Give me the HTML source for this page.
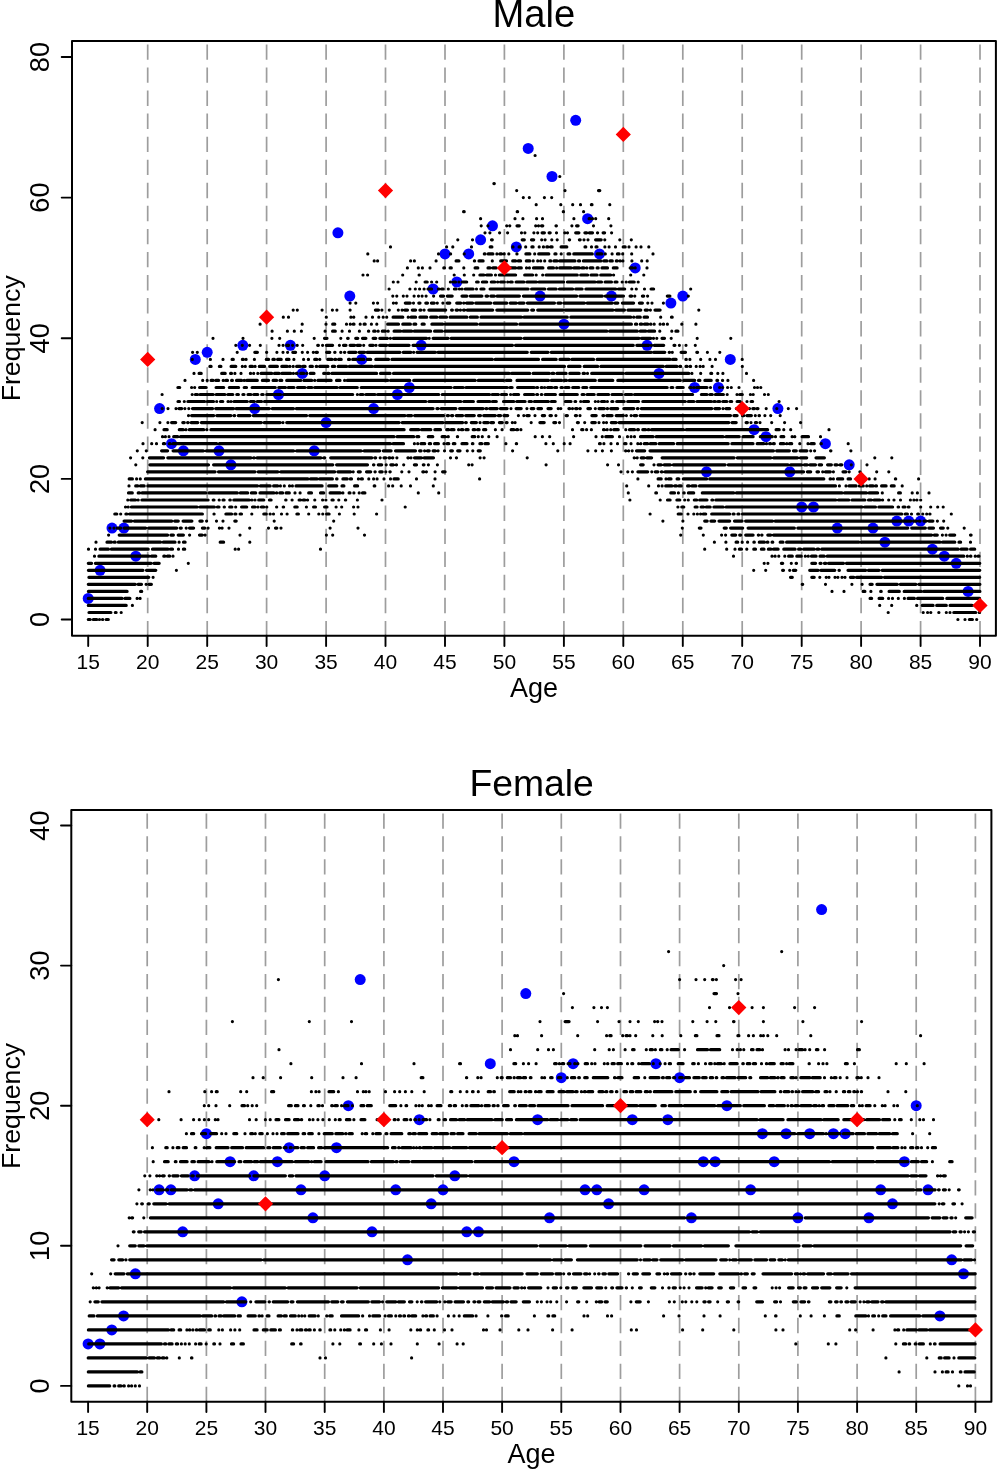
<!DOCTYPE html>
<html><head><meta charset="utf-8"><style>html,body{margin:0;padding:0;background:#fff;width:997px;height:1469px;overflow:hidden}svg{display:block;will-change:transform}</style></head><body>
<svg width="997" height="1469" viewBox="0 0 997 1469">
<path d="M147.7 44.4V635.8M207.2 44.4V635.8M266.6 44.4V635.8M326.1 44.4V635.8M385.5 44.4V635.8M445 44.4V635.8M504.4 44.4V635.8M563.9 44.4V635.8M623.3 44.4V635.8M682.8 44.4V635.8M742.2 44.4V635.8M801.7 44.4V635.8M861.1 44.4V635.8M920.6 44.4V635.8M980 44.4V635.8" stroke="#9d9d9d" stroke-width="1.7" stroke-dasharray="15.4 7.66" fill="none"/>
<g fill="#0000ff"><circle cx="88.2" cy="598.4" r="5.5"/><circle cx="100.1" cy="570.3" r="5.5"/><circle cx="112" cy="528.1" r="5.5"/><circle cx="123.9" cy="528.1" r="5.5"/><circle cx="135.8" cy="556.2" r="5.5"/><circle cx="159.6" cy="408.6" r="5.5"/><circle cx="171.5" cy="443.7" r="5.5"/><circle cx="183.4" cy="450.8" r="5.5"/><circle cx="195.3" cy="359.4" r="5.5"/><circle cx="207.2" cy="352.3" r="5.5"/><circle cx="219" cy="450.8" r="5.5"/><circle cx="230.9" cy="464.8" r="5.5"/><circle cx="242.8" cy="345.3" r="5.5"/><circle cx="254.7" cy="408.6" r="5.5"/><circle cx="278.5" cy="394.5" r="5.5"/><circle cx="290.4" cy="345.3" r="5.5"/><circle cx="302.3" cy="373.4" r="5.5"/><circle cx="314.2" cy="450.8" r="5.5"/><circle cx="326.1" cy="422.6" r="5.5"/><circle cx="337.9" cy="232.8" r="5.5"/><circle cx="349.8" cy="296.1" r="5.5"/><circle cx="361.7" cy="359.4" r="5.5"/><circle cx="373.6" cy="408.6" r="5.5"/><circle cx="397.4" cy="394.5" r="5.5"/><circle cx="409.3" cy="387.5" r="5.5"/><circle cx="421.2" cy="345.3" r="5.5"/><circle cx="433.1" cy="289" r="5.5"/><circle cx="445" cy="253.9" r="5.5"/><circle cx="456.8" cy="282" r="5.5"/><circle cx="468.7" cy="253.9" r="5.5"/><circle cx="480.6" cy="239.8" r="5.5"/><circle cx="492.5" cy="225.8" r="5.5"/><circle cx="516.3" cy="246.9" r="5.5"/><circle cx="528.2" cy="148.4" r="5.5"/><circle cx="540.1" cy="296.1" r="5.5"/><circle cx="552" cy="176.5" r="5.5"/><circle cx="563.9" cy="324.2" r="5.5"/><circle cx="575.7" cy="120.3" r="5.5"/><circle cx="587.6" cy="218.7" r="5.5"/><circle cx="599.5" cy="253.9" r="5.5"/><circle cx="611.4" cy="296.1" r="5.5"/><circle cx="635.2" cy="267.9" r="5.5"/><circle cx="647.1" cy="345.3" r="5.5"/><circle cx="659" cy="373.4" r="5.5"/><circle cx="670.9" cy="303.1" r="5.5"/><circle cx="682.8" cy="296.1" r="5.5"/><circle cx="694.6" cy="387.5" r="5.5"/><circle cx="706.5" cy="471.8" r="5.5"/><circle cx="718.4" cy="387.5" r="5.5"/><circle cx="730.3" cy="359.4" r="5.5"/><circle cx="754.1" cy="429.7" r="5.5"/><circle cx="766" cy="436.7" r="5.5"/><circle cx="777.9" cy="408.6" r="5.5"/><circle cx="789.8" cy="471.8" r="5.5"/><circle cx="801.7" cy="507" r="5.5"/><circle cx="813.5" cy="507" r="5.5"/><circle cx="825.4" cy="443.7" r="5.5"/><circle cx="837.3" cy="528.1" r="5.5"/><circle cx="849.2" cy="464.8" r="5.5"/><circle cx="873" cy="528.1" r="5.5"/><circle cx="884.9" cy="542.2" r="5.5"/><circle cx="896.8" cy="521.1" r="5.5"/><circle cx="908.7" cy="521.1" r="5.5"/><circle cx="920.6" cy="521.1" r="5.5"/><circle cx="932.4" cy="549.2" r="5.5"/><circle cx="944.3" cy="556.2" r="5.5"/><circle cx="956.2" cy="563.3" r="5.5"/><circle cx="968.1" cy="591.4" r="5.5"/></g>
<path d="M88.3 619.5h1.9M93.3 619.5h3.5M99.5 619.5h0M102.5 619.5h0.3M106.2 619.5h2.1M957.9 619.5h0M965 619.5h0M969.4 619.5h3M976.7 619.5h0M89 612.5h21.9M115.3 612.5h0.8M121.2 612.5h0M888.2 612.5h0M923.2 612.5h0M927.6 612.5h0M930.8 612.5h0M938.8 612.5h0.1M946.3 612.5h0M950 612.5h0M953.8 612.5h21.9M979.2 612.5h0.4M88.3 605.4h37.9M132.4 605.4h0M879.7 605.4h0M891.7 605.4h0M916.7 605.4h0.1M922.3 605.4h10.8M936.7 605.4h9.6M950.1 605.4h21.9M974.9 605.4h4.8M88.3 598.4h33.7M125 598.4h4.9M137.1 598.4h0M140.1 598.4h0M870.1 598.4h1.5M879.1 598.4h3.6M888.6 598.4h0M892.5 598.4h0M898.3 598.4h0M904.4 598.4h0M908.1 598.4h6.3M917.5 598.4h25.2M946.8 598.4h32.8M88.4 591.4h38.7M140.6 591.4h1.1M832 591.4h0M844 591.4h0M863.1 591.4h1.8M870.9 591.4h0M880.7 591.4h0.5M889.1 591.4h10.2M904.2 591.4h17M923.9 591.4h56M88.3 584.3h46.9M138.1 584.3h3.4M146.1 584.3h0M149 584.3h2.4M802.2 584.3h0.5M825.5 584.3h0M851.9 584.3h0M862.1 584.3h0M870 584.3h2.2M876.9 584.3h20.4M900.3 584.3h15.6M918.9 584.3h61M88.9 577.3h59.9M153.1 577.3h0M790.5 577.3h1.8M811.8 577.3h2.4M819.8 577.3h0M826.2 577.3h0M829 577.3h0M835 577.3h0M837.9 577.3h0M842 577.3h0M845 577.3h0M850.4 577.3h3.5M856.6 577.3h25.1M884.4 577.3h95.3M88.4 570.3h54.6M146.5 570.3h9.3M176.4 570.3h0M753.7 570.3h0M765.7 570.3h0M782.6 570.3h0.9M789.7 570.3h0M793.3 570.3h2.5M809.7 570.3h8.4M820.9 570.3h13.9M839 570.3h0.4M848 570.3h17.7M868.4 570.3h10.6M882.1 570.3h97.7M88.3 563.3h3.3M95.4 563.3h55.7M154 563.3h5.2M188.3 563.3h0M764.2 563.3h0M767.9 563.3h0M781.4 563.3h1.3M791.3 563.3h0M796.1 563.3h0.4M811.8 563.3h3.8M820 563.3h1.1M824.4 563.3h1.5M828.6 563.3h14.9M846.4 563.3h133.4M94.5 556.2h0M98.9 556.2h49.9M151.5 556.2h4.3M163.8 556.2h1M167.4 556.2h2.3M173 556.2h0M733.5 556.2h0M772 556.2h0M775.1 556.2h0M778.8 556.2h0M784.8 556.2h0M788.6 556.2h3.7M796.8 556.2h4.5M805.3 556.2h0M808.3 556.2h0M811.5 556.2h4.6M820 556.2h4.2M827.2 556.2h136.6M967.3 556.2h0.1M970.5 556.2h0.4M975.2 556.2h0.1M978.2 556.2h0.8M88.5 549.2h0M95.5 549.2h0M100.1 549.2h8.3M111.4 549.2h36.8M152.5 549.2h15.5M170.6 549.2h1.9M178.5 549.2h0M183.4 549.2h1.3M235.2 549.2h0M238.6 549.2h0M320.5 549.2h0M704.7 549.2h0M726.7 549.2h0M735 549.2h0M739.4 549.2h2.1M746.8 549.2h0M753.8 549.2h1.7M761.4 549.2h2.6M768.4 549.2h2.5M773.6 549.2h4.5M783.8 549.2h11.3M798.6 549.2h2.1M803.6 549.2h10.6M817.1 549.2h1.6M821.7 549.2h136.4M961.1 549.2h6M970.6 549.2h4.1M96 542.2h0M107 542.2h4.4M114.2 542.2h1M118.4 542.2h42.1M163.3 542.2h11.7M179.1 542.2h0M183.5 542.2h1.6M220.2 542.2h3.4M249.8 542.2h0M714.4 542.2h0M725.9 542.2h0M736.1 542.2h1.6M742.2 542.2h0M747.6 542.2h0M753.9 542.2h0.4M759.3 542.2h5.1M767.3 542.2h0.6M772.1 542.2h0.7M780.2 542.2h2.8M786.6 542.2h72.3M861.5 542.2h78.5M942.7 542.2h12.1M959 542.2h1.6M970.5 542.2h0M108.6 535.1h0M119.2 535.1h48.4M170.9 535.1h2.5M178.2 535.1h5.2M189.6 535.1h0M199.5 535.1h2.7M205.1 535.1h0M240 535.1h0M326.4 535.1h0M332.7 535.1h0M364.5 535.1h0M680.7 535.1h0M703.3 535.1h0M721.6 535.1h0M725.6 535.1h0M731.8 535.1h3.9M739.7 535.1h1M745.7 535.1h7.4M758.3 535.1h0.3M761.7 535.1h0.3M767.8 535.1h3M773.5 535.1h158.1M934.2 535.1h3.1M942.4 535.1h0M946.1 535.1h0M949.7 535.1h5M970.5 535.1h0.6M109.9 528.1h0M114 528.1h0M117.3 528.1h3.4M124.1 528.1h21.6M148.6 528.1h28.1M180.2 528.1h1.1M186.2 528.1h0M189.5 528.1h4.1M202.4 528.1h2.4M208.1 528.1h0M219.4 528.1h0M222.1 528.1h0M229 528.1h0M249.7 528.1h0M268.5 528.1h0M275.5 528.1h1.3M281 528.1h0M330.1 528.1h0M358 528.1h0M682.3 528.1h0M699.3 528.1h1.7M724.2 528.1h2.1M730.6 528.1h12.1M748.1 528.1h46.3M797.8 528.1h110M911.7 528.1h13.7M928.8 528.1h4.7M940.5 528.1h2.8M947.8 528.1h0M964.2 528.1h0M124.1 521.1h7.5M134.3 521.1h37.5M174.7 521.1h3.6M183.1 521.1h8.8M199.9 521.1h2.3M206.6 521.1h0M216.5 521.1h0M223 521.1h0M234.8 521.1h1.4M274.2 521.1h0M333.7 521.1h0M662.9 521.1h0M682.9 521.1h0M704.7 521.1h2.5M710.9 521.1h3.8M719 521.1h10.7M734.5 521.1h7.6M745.6 521.1h26.9M775.1 521.1h135.7M913.7 521.1h2.6M919.1 521.1h1M923.9 521.1h2.3M929 521.1h3.9M937.4 521.1h0M943.7 521.1h0M114.8 514h2M120.7 514h0M125.9 514h1M129.6 514h72.8M214 514h0.1M225.9 514h5.7M234.9 514h1M240.1 514h1.4M251.8 514h0M263.8 514h2.5M270.1 514h0.1M273.5 514h0M281.5 514h0M287.1 514h0M296.9 514h1.5M308.7 514h0M318.8 514h0M322.8 514h0M326.6 514h2.5M339.4 514h0M354.2 514h0M376.6 514h0M650.1 514h0M678.2 514h3M688 514h0M693.8 514h0M697.4 514h0M700.6 514h0M703.2 514h2.5M711.7 514h18M733.1 514h1M737.9 514h1.1M742.5 514h159.3M905.2 514h2.2M911.5 514h0M917.7 514h0.8M922.8 514h0M926.7 514h0M929.8 514h0.2M951.3 514h0M125.5 507h0M128.2 507h0M131.4 507h65.7M200 507h14.4M217.4 507h1.6M224.2 507h0.2M229.7 507h2.2M235.7 507h0M241.6 507h5.1M252.5 507h2.5M258 507h0M261.4 507h2.4M266.8 507h0M276.6 507h0.1M283.2 507h0.4M294.8 507h2.4M306.4 507h0M313.6 507h1.9M324.6 507h2.4M336.1 507h0M341.7 507h0M353.6 507h0M358 507h0M405.2 507h0M677.9 507h0M681.8 507h2M695.1 507h2M701.1 507h2.5M706.2 507h4M713.9 507h9.3M726 507h136.1M864.7 507h10.8M878.8 507h13.8M898.1 507h0.5M903.1 507h1.9M908.3 507h0.7M920.7 507h0M930.7 507h0M937.7 507h0M943.2 507h0M127.8 500h0M130.8 500h4.7M138.1 500h0.1M141.9 500h66.2M213.2 500h0.8M219.2 500h0M223 500h1.1M229.8 500h0.5M233.8 500h15.4M251.9 500h0M255 500h0M258.7 500h5.1M269.4 500h1.7M285.7 500h0.3M292.1 500h0M299.1 500h1.4M303.2 500h1.7M307.6 500h0M314.8 500h0M322.6 500h0M325.9 500h0M332 500h1.2M338.8 500h0M345.4 500h0.3M357.4 500h0M382 500h0M629.9 500h0M660.2 500h0M667.5 500h2.6M676.9 500h2.9M684.7 500h0M688.3 500h0M694.3 500h2.4M699.7 500h7.3M711.9 500h0.8M715.8 500h120M838.5 500h10.3M852 500h12.9M868.5 500h2.8M874 500h5.9M882.5 500h0.1M888.7 500h0M894 500h0M900.5 500h0M910.4 500h0M913.9 500h0M916.9 500h0M920.7 500h0M128.5 492.9h3.8M138.2 492.9h1.3M142.1 492.9h63.6M209 492.9h28.3M240.3 492.9h7.4M251.4 492.9h4.3M260 492.9h13.9M276.6 492.9h0.1M279.8 492.9h2.8M286.1 492.9h3.2M295 492.9h0M300.1 492.9h0M308.7 492.9h2.8M320.5 492.9h3.2M330.1 492.9h10.1M342.9 492.9h0M349.1 492.9h0.9M353.9 492.9h0M359.2 492.9h0M362.5 492.9h2.4M418.3 492.9h0M438.7 492.9h0M628.3 492.9h0M655.8 492.9h0.7M670.8 492.9h3.7M678.4 492.9h0M683.8 492.9h0.4M688.4 492.9h5.3M702.3 492.9h31.4M736.4 492.9h105.6M844.6 492.9h21.8M869.1 492.9h8.5M882.3 492.9h0M898.6 492.9h1.8M912.2 492.9h0M917.4 492.9h0M929 492.9h0M129 485.9h0M135.7 485.9h2.1M140.4 485.9h3.8M147.8 485.9h109.7M260.4 485.9h9.8M273.6 485.9h4.1M280.4 485.9h0M284.3 485.9h0M289.5 485.9h0.1M292.4 485.9h0M296 485.9h26.1M328.7 485.9h8.1M342 485.9h1.9M354.6 485.9h3M374.2 485.9h0.6M388.6 485.9h0M392.7 485.9h0M401.2 485.9h0M410.5 485.9h0M433.3 485.9h0M626.7 485.9h0M648.7 485.9h0M658.5 485.9h0M662.1 485.9h0M665.7 485.9h6.2M674.8 485.9h1.6M679 485.9h2.2M687.6 485.9h1.6M692 485.9h4M699.5 485.9h136M839.4 485.9h0M846 485.9h0M849.1 485.9h7M859.4 485.9h3.9M866.7 485.9h0M869.7 485.9h3.4M875.7 485.9h0.8M881.6 485.9h4.5M891.3 485.9h2.9M902.2 485.9h0M129.2 478.9h3.2M136.6 478.9h0M140.3 478.9h0M145.4 478.9h162.5M310.5 478.9h6.6M319.7 478.9h12.7M336.6 478.9h0.4M342.9 478.9h4.3M350.3 478.9h1.2M358.4 478.9h0M361.3 478.9h1.1M368.8 478.9h0M373.6 478.9h0M377.1 478.9h0M384 478.9h0M390.5 478.9h0M394 478.9h4.2M416.5 478.9h0M435 478.9h0M479.6 478.9h0M637.9 478.9h0M658.1 478.9h3.1M666 478.9h0M668.6 478.9h2.4M677.1 478.9h1.7M683.3 478.9h23.3M709.7 478.9h114.1M830.1 478.9h0.6M833.4 478.9h0M837.5 478.9h5.2M848.1 478.9h2.4M857.6 478.9h0M860.6 478.9h0.9M864.7 478.9h0M869.2 478.9h0M875.1 478.9h0M895.4 478.9h0.3M918.6 478.9h0M147.6 471.8h67.5M218.5 471.8h36.5M258.2 471.8h19.7M280.8 471.8h53.9M337.9 471.8h12.7M353.2 471.8h0M358.3 471.8h2M366.5 471.8h4.2M375 471.8h0.2M379.8 471.8h2.4M385.8 471.8h0M389.9 471.8h0.3M401.8 471.8h0M409 471.8h0M422.8 471.8h0.9M426.4 471.8h0M435.1 471.8h0M442.6 471.8h2.5M621 471.8h0M627.8 471.8h0M632.4 471.8h0M637.9 471.8h9.8M651.8 471.8h0M655.3 471.8h2.6M661.4 471.8h0.6M665 471.8h138.6M807.4 471.8h3.3M817 471.8h1.5M822.7 471.8h0M825.4 471.8h4.9M833.4 471.8h0M843 471.8h2.9M849.2 471.8h0M859.9 471.8h0M876.7 471.8h0M888.8 471.8h0M135.8 464.8h0M149.9 464.8h58.6M213.6 464.8h119.2M336.6 464.8h30.9M373.5 464.8h0.4M378.3 464.8h3.4M386.2 464.8h0M390.8 464.8h2.5M396.3 464.8h0.2M403.7 464.8h0M414.4 464.8h2.1M423.3 464.8h0.7M428.4 464.8h0M437.4 464.8h0M468.7 464.8h0M472.1 464.8h0M546.1 464.8h0M607.6 464.8h0M618.5 464.8h0M640.6 464.8h2.6M654 464.8h0M658.1 464.8h3.1M664.2 464.8h6.1M673.3 464.8h51.8M728.3 464.8h59.7M790.7 464.8h10.8M804.3 464.8h2.9M809.9 464.8h5.6M819.1 464.8h2.5M827.6 464.8h3.8M835 464.8h2M840 464.8h1.8M851.3 464.8h0M867 464.8h0M130.6 457.8h0M142.8 457.8h0M149.4 457.8h14.2M167.8 457.8h83.2M253.7 457.8h0.5M257 457.8h63.9M323.9 457.8h0.9M330.7 457.8h41.1M374.9 457.8h0.8M380.2 457.8h0M384 457.8h1.8M389 457.8h0.9M392.5 457.8h0.3M396.9 457.8h0M407.9 457.8h0.4M411 457.8h0M414.5 457.8h6.9M424.1 457.8h9.4M450.5 457.8h0M456.4 457.8h0.1M480.1 457.8h0M484.1 457.8h0M527.2 457.8h0M634.2 457.8h0M637.2 457.8h0M641.2 457.8h2.9M646.9 457.8h4.7M662.1 457.8h72M737.3 457.8h33.6M773.6 457.8h23.9M800.4 457.8h6.3M816 457.8h8.4M874.8 457.8h0M891.8 457.8h0M137.3 450.8h0M146.3 450.8h0M161.6 450.8h6M173.1 450.8h30.3M206.3 450.8h87.3M296.6 450.8h64.5M364.1 450.8h15.6M383.3 450.8h7.8M395.5 450.8h20M419.6 450.8h1.5M424.6 450.8h0M427.4 450.8h1.8M433.1 450.8h2.2M438.1 450.8h0M444.5 450.8h0M450.7 450.8h1.7M457.7 450.8h2.3M467.3 450.8h0M472.8 450.8h0M478.2 450.8h2.1M512.6 450.8h0M557.8 450.8h0M587.9 450.8h0M595.7 450.8h0M602.4 450.8h0M611.4 450.8h0M625.6 450.8h0.2M628.7 450.8h0M632.2 450.8h0M636.5 450.8h8.2M650 450.8h123.5M776.6 450.8h12.8M793.4 450.8h2.9M800.1 450.8h6.8M810.7 450.8h0M814.6 450.8h0M830.6 450.8h0.3M850.9 450.8h0M143 443.7h0M151.7 443.7h0M156.5 443.7h0M163.4 443.7h1.2M169.4 443.7h0.7M173.1 443.7h43.6M219.4 443.7h171M393.1 443.7h10.4M414.4 443.7h0M417.7 443.7h0M421 443.7h3.7M429.3 443.7h1.3M434.6 443.7h3.8M444 443.7h0M447.1 443.7h1.7M453.3 443.7h1.6M462 443.7h5M472.4 443.7h0.5M479.9 443.7h1.8M485 443.7h3.3M505.9 443.7h0M516.3 443.7h0.3M545.9 443.7h0M553.3 443.7h0M564.2 443.7h0M570.1 443.7h0M599.5 443.7h0.8M603.9 443.7h0M611 443.7h0M617.5 443.7h0M624.6 443.7h1.4M631 443.7h0M637.8 443.7h0M640.8 443.7h0M644.3 443.7h3.3M650.3 443.7h5.6M659.2 443.7h14.4M677.2 443.7h51M731.9 443.7h21.1M757.2 443.7h6.6M766.5 443.7h0M769.6 443.7h1M773.3 443.7h1M780.4 443.7h3.5M786.8 443.7h0M789.5 443.7h2.2M799.8 443.7h0M808 443.7h0M811 443.7h3.2M820.9 443.7h0.4M848.2 443.7h0M162.5 436.7h0M165.4 436.7h0M169 436.7h0M173.7 436.7h4M180.5 436.7h213.5M397.1 436.7h16.6M416.9 436.7h1.9M428.3 436.7h4.5M442.1 436.7h3.2M448.2 436.7h0.1M457.4 436.7h0.2M472.2 436.7h2.5M478.3 436.7h0M482.3 436.7h0M488.8 436.7h0M497.1 436.7h0M535.2 436.7h0M542.4 436.7h0M549.7 436.7h0M573.6 436.7h0M596 436.7h0M602.3 436.7h0M605.8 436.7h6.6M619.5 436.7h0M627.5 436.7h0M631.1 436.7h0M634.5 436.7h0M640.5 436.7h12.6M656.2 436.7h66.9M726 436.7h13.2M743 436.7h10.1M760.3 436.7h12M775.5 436.7h0M781 436.7h2.8M792.1 436.7h0M794.8 436.7h0M802.1 436.7h6.4M820.5 436.7h0M155.1 429.7h0M164 429.7h3.2M179.3 429.7h3.9M186 429.7h0M189.3 429.7h14.4M206.8 429.7h0.1M210.9 429.7h193.2M410.7 429.7h8M421.6 429.7h9.2M434.9 429.7h5.6M446.7 429.7h1.9M451.2 429.7h2.8M458.6 429.7h0M461.4 429.7h1.4M466 429.7h2.1M473.2 429.7h1.6M477.6 429.7h1.5M483.6 429.7h2.2M495.4 429.7h0M502.1 429.7h0M511.2 429.7h2.6M516.7 429.7h0.9M520.9 429.7h0M572.5 429.7h0M581.7 429.7h1.2M586.6 429.7h0M591.4 429.7h0M603.5 429.7h0.7M607.2 429.7h0M610.7 429.7h0M613.8 429.7h4.4M625.8 429.7h0M629.5 429.7h5M637.6 429.7h0.8M642.8 429.7h2.7M648.1 429.7h0.8M651.6 429.7h31.9M686.3 429.7h81.3M776.1 429.7h3.1M783.8 429.7h0M790.7 429.7h0M829 429.7h0M142.2 422.6h0M159.9 422.6h0M167.9 422.6h0M171.6 422.6h4.1M182.8 422.6h1.5M187.6 422.6h0.5M191.2 422.6h6.6M201.4 422.6h59.9M264.2 422.6h15.9M283 422.6h0M286.7 422.6h112.4M402.2 422.6h40.8M445.8 422.6h16.8M465.6 422.6h0.7M471.3 422.6h5.1M480 422.6h0.1M483.8 422.6h4.4M491 422.6h2.5M499.4 422.6h2.9M506.3 422.6h0.8M512.3 422.6h0M515.1 422.6h0M531.2 422.6h0M539.9 422.6h4.3M553.8 422.6h1.9M559.5 422.6h0M577.4 422.6h1M584.7 422.6h0M591.8 422.6h3.5M599 422.6h0M603.6 422.6h0M606.5 422.6h0M611.3 422.6h4.8M619.1 422.6h109.7M732 422.6h4.2M746.1 422.6h1.3M751 422.6h0M755.4 422.6h1.2M760 422.6h0M771.7 422.6h0M784.6 422.6h0M800.6 422.6h0M188.5 415.6h0M191.6 415.6h22.1M216.8 415.6h14.1M234 415.6h0.7M238.3 415.6h11.7M253.3 415.6h53.3M309.7 415.6h95.3M407.6 415.6h4M414.6 415.6h29M447.3 415.6h1.2M451.5 415.6h1.3M456.3 415.6h6.3M465.7 415.6h8.6M478.6 415.6h1.9M483.7 415.6h11.6M498.3 415.6h2.3M503.9 415.6h3.8M518.4 415.6h0M523.8 415.6h0M526.9 415.6h2.3M535 415.6h0M542.3 415.6h2.3M550 415.6h1.4M555.9 415.6h0M566.1 415.6h1.3M575.4 415.6h1.1M580 415.6h0M591.9 415.6h4.3M602.9 415.6h0.8M606.8 415.6h5.3M616.2 415.6h7.2M626.4 415.6h0M631.1 415.6h0M634.1 415.6h2.5M640.1 415.6h90.4M733.9 415.6h3.2M742.4 415.6h1.4M746.9 415.6h4.5M755.3 415.6h0M759 415.6h0.5M764.9 415.6h0M770.7 415.6h0M780.2 415.6h0M162.2 408.6h0M168 408.6h0M176 408.6h0M179 408.6h2.7M184.9 408.6h0M188.8 408.6h0M192.5 408.6h20.1M215.7 408.6h17.8M236.1 408.6h33.2M272.2 408.6h21.3M296.3 408.6h136.8M436.9 408.6h1.2M441.1 408.6h14.8M459.6 408.6h23.5M486 408.6h0.9M489.7 408.6h7.5M500.4 408.6h6.7M511 408.6h0M516.1 408.6h5.1M526.9 408.6h0M531.2 408.6h2.6M537.9 408.6h3.6M548 408.6h3.2M558.2 408.6h0M560.8 408.6h0M568.9 408.6h0.8M572.5 408.6h0M575.6 408.6h1.4M579.9 408.6h0.4M587.9 408.6h2.6M595.3 408.6h0M599 408.6h5.3M607.2 408.6h0.4M610.7 408.6h7M623.8 408.6h10M637.4 408.6h0.6M641.3 408.6h70.5M714.9 408.6h4.7M723 408.6h0M726 408.6h3.7M736.4 408.6h0.4M739.8 408.6h1.5M749.5 408.6h0M752.8 408.6h1.6M757 408.6h1M766.2 408.6h0M776.8 408.6h0M788.3 408.6h0M796.6 408.6h0M178 401.5h1.5M184.3 401.5h0M187.9 401.5h16.7M207.2 401.5h6.3M216.7 401.5h0M220.5 401.5h2.3M228 401.5h0.3M231 401.5h0M234 401.5h13.3M250.4 401.5h3.9M257.2 401.5h4.4M264.4 401.5h161.4M428.9 401.5h31.9M463.8 401.5h9.6M478 401.5h11.9M492.5 401.5h3.8M503.5 401.5h10.3M516.8 401.5h8.3M529.1 401.5h2.4M534.4 401.5h14M551.3 401.5h3.9M565.4 401.5h5.6M575 401.5h0.7M580.7 401.5h0M583.5 401.5h5M595.3 401.5h0M598.3 401.5h0M601.5 401.5h3.2M607.4 401.5h0M611.8 401.5h1.1M616.7 401.5h7.5M627.7 401.5h10.9M642.8 401.5h42.5M688.3 401.5h5.6M697 401.5h14.3M713.9 401.5h1.3M717.9 401.5h1.8M722.8 401.5h4M730.1 401.5h1.6M737.1 401.5h3.1M747 401.5h0M751.1 401.5h1.5M779.1 401.5h0M162.1 394.5h0M192.2 394.5h0M195.4 394.5h2M200 394.5h13.2M216.2 394.5h8.7M227.9 394.5h4.9M236.8 394.5h1.6M242.9 394.5h1.1M248 394.5h2.9M253.8 394.5h4M261.7 394.5h1.5M266.7 394.5h13.9M283.7 394.5h69M357.4 394.5h0M360.3 394.5h2.7M365.9 394.5h9.1M377.7 394.5h61M442.2 394.5h47.3M492.2 394.5h6.2M501.4 394.5h5.2M510.6 394.5h0M513.5 394.5h5.1M524.6 394.5h9M536.7 394.5h0.9M541.3 394.5h0.5M545.2 394.5h10.2M560.2 394.5h17.1M582.1 394.5h1.9M587.1 394.5h7.1M597.9 394.5h10.7M612 394.5h9.9M625.4 394.5h6.4M634.5 394.5h58.1M701.4 394.5h5.6M710 394.5h2.3M715.4 394.5h8M727.2 394.5h0M737 394.5h0M739.8 394.5h2.5M750.4 394.5h0M753.2 394.5h0M764.5 394.5h0M768.3 394.5h0M177.9 387.5h1.8M191.6 387.5h0M194.7 387.5h0M199.6 387.5h6.6M216.1 387.5h7.6M229.3 387.5h9.3M244.2 387.5h2.3M252.1 387.5h23.2M278.7 387.5h6.8M288.3 387.5h5.7M297.5 387.5h7.5M308 387.5h3.9M314.7 387.5h22.4M340 387.5h17.3M361.2 387.5h89.9M454.3 387.5h8.9M466 387.5h41.2M510 387.5h2.1M517.6 387.5h16.6M536.8 387.5h0.8M541.2 387.5h0.9M544.7 387.5h0M547.6 387.5h4.4M554.8 387.5h1.9M561 387.5h1.4M565.1 387.5h3.9M572.7 387.5h6.1M582.8 387.5h4M590.7 387.5h76.5M671.1 387.5h1.7M676.9 387.5h6.3M689.7 387.5h1.5M693.9 387.5h0M696.6 387.5h10.4M710.5 387.5h0M719.6 387.5h0M722.7 387.5h0M727.6 387.5h0M731.3 387.5h0M739 387.5h0M754.5 387.5h0M757.5 387.5h0M760.8 387.5h0M185 380.4h0M202.7 380.4h0M207.2 380.4h0M211.1 380.4h1.9M215.9 380.4h2.7M223.2 380.4h0M225.9 380.4h1.6M231.6 380.4h0.8M236.5 380.4h5M244.2 380.4h0M246.8 380.4h10.5M262.4 380.4h6.2M273.1 380.4h3.5M279.9 380.4h1.9M286.7 380.4h14M303.9 380.4h7.8M314.7 380.4h0M317.9 380.4h13.2M336.5 380.4h3.5M344.6 380.4h0M347.3 380.4h40.4M390.5 380.4h19.3M413.7 380.4h61.5M478.3 380.4h25.2M506.3 380.4h4.5M517 380.4h31.5M551.4 380.4h10.2M564.3 380.4h2.2M569.3 380.4h26M599.1 380.4h13.7M617.8 380.4h62.6M683.7 380.4h11M698.5 380.4h1.4M704.9 380.4h6.3M716.9 380.4h0.7M722.5 380.4h0.1M727.9 380.4h0M753.6 380.4h0M194 373.4h0M199.1 373.4h2.1M221.7 373.4h3.5M230.6 373.4h0.9M234.9 373.4h0M241 373.4h0M250.4 373.4h0.2M253.7 373.4h0M257.8 373.4h0M261.1 373.4h10.6M274.5 373.4h4.6M281.9 373.4h8.8M293.4 373.4h0M296.4 373.4h0.7M300.7 373.4h3M306.8 373.4h0M310.3 373.4h3.7M323.7 373.4h1.3M327.6 373.4h1.3M331.9 373.4h44.7M380.5 373.4h9.6M393.5 373.4h115.6M511.7 373.4h18M533.1 373.4h16.2M552.1 373.4h1.7M556.9 373.4h9.2M569.8 373.4h9.4M583.1 373.4h1.4M587.5 373.4h0M591.7 373.4h31.4M625.9 373.4h62.9M691.9 373.4h0M700.7 373.4h0M710.8 373.4h0.9M717.8 373.4h0M722.9 373.4h0M746.5 373.4h0M209.9 366.4h1.2M219.4 366.4h1.5M231.1 366.4h4.7M242.3 366.4h0M245.3 366.4h0M250.1 366.4h2.3M255.1 366.4h0M259.3 366.4h5.3M269.7 366.4h7.7M281.8 366.4h5.4M289.9 366.4h0M293.2 366.4h0M296.6 366.4h3.6M302.8 366.4h2.3M310.1 366.4h2.3M316.2 366.4h0.5M319.6 366.4h8.3M332.4 366.4h2.2M338.2 366.4h8.4M349.3 366.4h22.8M374.8 366.4h189.7M568.5 366.4h11.6M584.2 366.4h13.5M600.9 366.4h62.4M666.2 366.4h10.7M679.9 366.4h0.8M686 366.4h1M690.1 366.4h0.5M696.2 366.4h0M700.1 366.4h0M703.2 366.4h0M712.1 366.4h0M742.3 366.4h0M192.3 359.4h0M210.4 359.4h0M223 359.4h0M232.1 359.4h1.2M242.4 359.4h0.9M246.1 359.4h0M254.4 359.4h0M266.3 359.4h2.3M272.9 359.4h1.5M277.6 359.4h3.6M286.5 359.4h2.5M293.9 359.4h0M303.6 359.4h0M308.3 359.4h0.2M314.7 359.4h2.1M319.8 359.4h0M327.8 359.4h4.1M334.8 359.4h0.9M338.6 359.4h2.6M348.5 359.4h1M352.7 359.4h3.3M358.8 359.4h5M367.4 359.4h3.3M375.8 359.4h12.7M391.9 359.4h100.4M495.2 359.4h43.3M542.6 359.4h13.6M559.9 359.4h9.1M571.9 359.4h21.7M597.1 359.4h72.9M672.7 359.4h3.4M685.9 359.4h0.4M689.9 359.4h0M700.7 359.4h0M709.9 359.4h0M715.5 359.4h0M742.2 359.4h0M192.6 352.3h0M197.3 352.3h0M237.2 352.3h0M254.8 352.3h2.6M266.6 352.3h0.1M276.9 352.3h0M283 352.3h0M287.6 352.3h0M292.8 352.3h2.8M302.3 352.3h0M307.6 352.3h0M313.3 352.3h0M316.1 352.3h1.3M326.6 352.3h3.2M334.7 352.3h0.3M340.7 352.3h0.2M344.5 352.3h0.3M348.7 352.3h7.2M359.1 352.3h5.4M367.1 352.3h32.8M403.2 352.3h7.7M413.7 352.3h0M417 352.3h18.3M438 352.3h89.3M531.2 352.3h16.8M551.2 352.3h100M653.7 352.3h11.1M669.2 352.3h0.3M672.3 352.3h0M681.1 352.3h4.4M696.8 352.3h0.8M707.4 352.3h0M719.8 352.3h0M235.8 345.3h0M242.3 345.3h0M249.6 345.3h0M260.3 345.3h0M279 345.3h0M283.1 345.3h0M286.7 345.3h1.9M292.6 345.3h0M297.2 345.3h0M302.7 345.3h0M317.7 345.3h0.7M322.6 345.3h0M326.4 345.3h6.2M339.4 345.3h0M343.5 345.3h2.5M350.1 345.3h4.4M357.1 345.3h3.3M363.7 345.3h0M369.8 345.3h3.4M376 345.3h0M379.7 345.3h6.9M389.2 345.3h19.9M413 345.3h99.5M515.5 345.3h117.8M636.8 345.3h11.8M651.3 345.3h0.2M654.2 345.3h9.5M674 345.3h0.9M679.4 345.3h0M686 345.3h0M695.3 345.3h0M213 338.3h0M243 338.3h0M271.9 338.3h0M279.7 338.3h0M314.2 338.3h0M324.5 338.3h2.5M340.8 338.3h0M347.6 338.3h0.6M355.7 338.3h2.1M362.5 338.3h3.4M373.1 338.3h2.7M379.8 338.3h7.6M390.4 338.3h0M393.4 338.3h33.1M429.2 338.3h0M433.1 338.3h14.9M451.1 338.3h69.9M524.1 338.3h114.9M641.6 338.3h9.2M653.5 338.3h0M656.8 338.3h0M662 338.3h2.5M671.2 338.3h0M697.2 338.3h0M730.8 338.3h0M272.1 331.2h0M287.4 331.2h0M294.3 331.2h0M301.4 331.2h0M325.1 331.2h0M332.6 331.2h2.7M342.1 331.2h0M349.5 331.2h0M359.4 331.2h0M368.5 331.2h0.2M373.7 331.2h1.4M378.2 331.2h0M382.3 331.2h3M388.2 331.2h0M394.1 331.2h6.4M403.2 331.2h8.4M414.3 331.2h16.3M434.6 331.2h7.5M445.1 331.2h161.7M609.7 331.2h27.6M640.3 331.2h5.5M648.5 331.2h6.1M659.8 331.2h0M671.8 331.2h0M675.9 331.2h2M260.1 324.2h0M302.2 324.2h0M326 324.2h0M332.7 324.2h2.1M346.5 324.2h0M350.3 324.2h0M353.3 324.2h0.7M360.2 324.2h0M364.1 324.2h1.1M371.4 324.2h0M376.8 324.2h0M387.7 324.2h10.8M402.8 324.2h7.6M413.9 324.2h1.9M422.1 324.2h2.1M431.9 324.2h10.9M445.5 324.2h31.4M480 324.2h36.6M519.8 324.2h111.6M635.5 324.2h1.2M640.3 324.2h1.5M644.5 324.2h3.3M650.6 324.2h0.3M654.2 324.2h0M660.1 324.2h0M663.3 324.2h0.3M667.4 324.2h0M681.8 324.2h0M695.9 324.2h0M283.3 317.2h0M288.5 317.2h0M326.3 317.2h0M350.9 317.2h0M353.8 317.2h0M366 317.2h0M372.5 317.2h0M378.8 317.2h0M383.2 317.2h0M386.7 317.2h0M393.1 317.2h9.7M408.2 317.2h0M411.1 317.2h4.5M419.9 317.2h6.8M430.7 317.2h6.1M439.9 317.2h6.6M450.1 317.2h16.8M470.3 317.2h7.1M481 317.2h40.3M524 317.2h43.3M570.8 317.2h60M633.7 317.2h0M636.8 317.2h3.5M644.1 317.2h3.4M660.7 317.2h0M671.5 317.2h0.7M293.2 310.1h0M297.3 310.1h0M322.1 310.1h0M332.4 310.1h0M336.9 310.1h0M350.1 310.1h0M375.4 310.1h3.1M381.9 310.1h0M389.3 310.1h0M398.3 310.1h0M402.1 310.1h0M404.8 310.1h2.7M412.3 310.1h3.3M419.9 310.1h1M424.1 310.1h0M428.9 310.1h16.8M451.6 310.1h0.8M456.1 310.1h1.5M460.3 310.1h0.2M463.5 310.1h1M467.2 310.1h25.5M496.8 310.1h31M531.7 310.1h1.9M537.7 310.1h25M565.4 310.1h47.6M615.7 310.1h8.8M627.9 310.1h12.9M645.2 310.1h2.3M650.4 310.1h0M655 310.1h5.1M698.8 310.1h0M350.1 303.1h0M355.8 303.1h0M373.4 303.1h0M377.6 303.1h0M393.4 303.1h0M396.3 303.1h0M405.3 303.1h4.9M413.5 303.1h0M418.8 303.1h1.2M425.8 303.1h1.7M431.4 303.1h2.8M437.3 303.1h0M442.9 303.1h0M447.2 303.1h2.6M456.7 303.1h4.1M463.8 303.1h0M466.6 303.1h6M475.7 303.1h15.1M494.2 303.1h12.6M510.2 303.1h6.1M519 303.1h5M527.4 303.1h27.1M557.9 303.1h3M564 303.1h20.4M587.1 303.1h25M615 303.1h2.8M622.4 303.1h11.2M639.4 303.1h3M647.8 303.1h0M652 303.1h0M663.4 303.1h0M392.8 296.1h0M396.8 296.1h0M403.3 296.1h0M407 296.1h0M414.1 296.1h0M418.5 296.1h0M422.1 296.1h0M426.1 296.1h0M433.6 296.1h0M440.5 296.1h3.1M447.3 296.1h4.9M462 296.1h4.9M470.3 296.1h11.6M486.1 296.1h1.5M490.8 296.1h3.5M497 296.1h22.4M523.4 296.1h53.3M579.9 296.1h22.4M605.3 296.1h18.2M630.1 296.1h1.6M634.8 296.1h0M642.4 296.1h1.3M647.6 296.1h0M667.3 296.1h2.6M688.3 296.1h0M389.1 289h0M409.9 289h0M415.3 289h0M419.6 289h0M424.1 289h0M428 289h3.6M438.4 289h0.6M441.6 289h1.6M448.3 289h0M454.4 289h1.8M459.4 289h0M462 289h0M465.2 289h7.9M476.5 289h0M480.9 289h3.1M490.1 289h38M531.6 289h13.3M548.5 289h7.7M559.4 289h13.2M575.7 289h6.4M585.9 289h29.9M618.5 289h6.2M631.8 289h0M636.3 289h0M644.5 289h0M651.1 289h2.5M690.7 289h0M393.3 282h0M398 282h0M416.2 282h0M425.1 282h2.1M431.6 282h0M436.7 282h0M450.4 282h0M453.3 282h2.2M458.9 282h0M462.3 282h4.4M476.6 282h1.6M482.4 282h4.3M491.3 282h3.5M497.7 282h0M500.6 282h3.8M507.7 282h0M510.4 282h1.8M516.1 282h7.8M527 282h9.4M539 282h24.6M567.4 282h27.7M597.7 282h3.8M605.1 282h6.4M615 282h2M622.2 282h0M626.2 282h0M629.4 282h4.8M638.2 282h0M363 275h0M367.6 275h0M402.7 275h0M419.1 275h0.2M454.2 275h0M464.3 275h0M473.7 275h0M479.9 275h4M486.7 275h4.7M495.5 275h0M499.3 275h16.3M524.7 275h7.9M536.2 275h0M542.7 275h0M546.1 275h31.2M580.7 275h6.9M591 275h6.1M600.7 275h10M613.6 275h0M630.7 275h0M643.8 275h0M407.4 267.9h0M418.3 267.9h0M422.4 267.9h0M430 267.9h0M443.8 267.9h0.7M450.1 267.9h1.2M463.8 267.9h0M475.1 267.9h2.7M488 267.9h2M492.9 267.9h3.3M503.3 267.9h3.6M510.3 267.9h5.3M518.3 267.9h3M526.5 267.9h0M529.4 267.9h0M533.5 267.9h9.4M548.6 267.9h4.9M556.6 267.9h0M559.7 267.9h11.4M573.9 267.9h5.5M582 267.9h2M586.8 267.9h0M590.2 267.9h2.7M597.1 267.9h1.1M602 267.9h5.5M613.3 267.9h3.8M630.2 267.9h2.3M635.2 267.9h0M647 267.9h0M374.2 260.9h0M377.6 260.9h0M410.6 260.9h0M414.4 260.9h0M436.1 260.9h0M456.1 260.9h2.8M474.4 260.9h0.2M479 260.9h4.1M492.3 260.9h0M500.7 260.9h5.8M512.7 260.9h2.9M518.3 260.9h2.3M526.3 260.9h3.5M533.2 260.9h0M537.7 260.9h0M540.7 260.9h0M544.7 260.9h0M549.8 260.9h1M554 260.9h3M559.8 260.9h15.2M578.5 260.9h1.1M583.4 260.9h17.5M603.9 260.9h3M610.1 260.9h2.2M616.3 260.9h0.9M620.1 260.9h0M622.9 260.9h0M631.9 260.9h0M641.7 260.9h0M647.2 260.9h0M367.8 253.9h0M438.5 253.9h0M450.6 253.9h0M464.2 253.9h0M484.3 253.9h0.7M488.2 253.9h4.7M496.9 253.9h0M499.9 253.9h1.6M504.2 253.9h0M508.8 253.9h0M516.9 253.9h0.1M525.9 253.9h4M534.7 253.9h0M538.7 253.9h10.1M554.9 253.9h1.1M561.2 253.9h0M568 253.9h1.8M573.8 253.9h18.5M597.2 253.9h4.6M605.3 253.9h0M612.1 253.9h0M617.4 253.9h1.7M622.7 253.9h0M631.7 253.9h0M653 253.9h0M390.5 246.9h0M446.6 246.9h0M452.8 246.9h0M471.5 246.9h0M490.2 246.9h1.7M512.8 246.9h0.2M519.1 246.9h0.9M525.7 246.9h0M531.9 246.9h1.2M539.2 246.9h0M543.4 246.9h0.1M546.8 246.9h1M550.6 246.9h1.5M561.1 246.9h5.7M585 246.9h0.8M591.5 246.9h0M596 246.9h1M604.9 246.9h0M609.1 246.9h0M615.5 246.9h0M623.2 246.9h2M629 246.9h0M636.1 246.9h0M641 246.9h0M648.8 246.9h0M457.8 239.8h0M472.5 239.8h0M491.5 239.8h0.8M522.2 239.8h2.1M531.5 239.8h2.2M541.7 239.8h0M545.1 239.8h0M551.8 239.8h0M557.2 239.8h0M569.3 239.8h0.3M579.4 239.8h0.8M584 239.8h0M588 239.8h0M595.6 239.8h5.6M604.8 239.8h0M619.8 239.8h0M631.3 239.8h0M485 232.8h0M489.9 232.8h0M499.6 232.8h0M507.6 232.8h0M521.5 232.8h0M524.9 232.8h0M533.9 232.8h0M537.7 232.8h0M542.1 232.8h2.3M549.1 232.8h1.1M556.5 232.8h0M564.8 232.8h0M567.5 232.8h0M575.7 232.8h3.2M584.9 232.8h1.8M589.3 232.8h3.2M597.5 232.8h0.1M603.1 232.8h1.5M611.6 232.8h0M481.2 225.8h0M487.9 225.8h0M506.7 225.8h0M509.8 225.8h0M517 225.8h2.3M535.7 225.8h0M538.5 225.8h0M541.5 225.8h1.3M556 225.8h0.4M571.9 225.8h0M576.6 225.8h1.5M593.5 225.8h0M610.9 225.8h0M480.6 218.7h0M515 218.7h0M522.9 218.7h0M536.6 218.7h0M542.5 218.7h0M573.9 218.7h0M589.1 218.7h0.7M592.5 218.7h0M595.7 218.7h0M608.7 218.7h0M463.6 211.7h0.6M517.2 211.7h0.4M563.3 211.7h0.2M583.6 211.7h0M536.2 204.7h0M560.8 204.7h0M572.7 204.7h0M580.5 204.7h0M591.4 204.7h0.6M609.8 204.7h0M523.3 197.6h0M529.3 197.6h0M544.4 197.6h0M551.7 197.6h0M516.7 190.6h0M565 190.6h0M598.5 190.6h1.3M493.9 183.6h0.4M559.8 176.5h0M535.1 155.5h0" stroke="#000" stroke-width="3.2" stroke-linecap="round" fill="none"/>
<path d="M147.7 351.8L155.3 359.4L147.7 367L140.1 359.4ZM266.6 309.6L274.2 317.2L266.6 324.8L259 317.2ZM385.5 183L393.1 190.6L385.5 198.2L377.9 190.6ZM504.4 260.3L512 267.9L504.4 275.6L496.8 267.9ZM623.3 126.8L630.9 134.4L623.3 142L615.7 134.4ZM742.2 401L749.8 408.6L742.2 416.2L734.6 408.6ZM861.1 471.3L868.7 478.9L861.1 486.5L853.5 478.9ZM980 597.8L987.6 605.4L980 613L972.4 605.4Z" fill="#ff0000"/>
<rect x="72" y="40.9" width="923.9" height="594.9" fill="none" stroke="#000" stroke-width="2" stroke-linejoin="round"/>
<path d="M88.2 635.8V646M147.7 635.8V646M207.2 635.8V646M266.6 635.8V646M326.1 635.8V646M385.5 635.8V646M445 635.8V646M504.4 635.8V646M563.9 635.8V646M623.3 635.8V646M682.8 635.8V646M742.2 635.8V646M801.7 635.8V646M861.1 635.8V646M920.6 635.8V646M980 635.8V646M72 619.5H61.7M72 478.9H61.7M72 338.3H61.7M72 197.6H61.7M72 57H61.7" stroke="#000" stroke-width="1.9" stroke-linecap="round" fill="none"/>
<g font-family="Liberation Sans, sans-serif" fill="#000"><text x="88.2" y="668.9" text-anchor="middle" font-size="21">15</text><text x="147.7" y="668.9" text-anchor="middle" font-size="21">20</text><text x="207.2" y="668.9" text-anchor="middle" font-size="21">25</text><text x="266.6" y="668.9" text-anchor="middle" font-size="21">30</text><text x="326.1" y="668.9" text-anchor="middle" font-size="21">35</text><text x="385.5" y="668.9" text-anchor="middle" font-size="21">40</text><text x="445" y="668.9" text-anchor="middle" font-size="21">45</text><text x="504.4" y="668.9" text-anchor="middle" font-size="21">50</text><text x="563.9" y="668.9" text-anchor="middle" font-size="21">55</text><text x="623.3" y="668.9" text-anchor="middle" font-size="21">60</text><text x="682.8" y="668.9" text-anchor="middle" font-size="21">65</text><text x="742.2" y="668.9" text-anchor="middle" font-size="21">70</text><text x="801.7" y="668.9" text-anchor="middle" font-size="21">75</text><text x="861.1" y="668.9" text-anchor="middle" font-size="21">80</text><text x="920.6" y="668.9" text-anchor="middle" font-size="21">85</text><text x="980" y="668.9" text-anchor="middle" font-size="21">90</text><text transform="translate(49.3 619.5) rotate(-90)" text-anchor="middle" font-size="27.2">0</text><text transform="translate(49.3 478.9) rotate(-90)" text-anchor="middle" font-size="27.2">20</text><text transform="translate(49.3 338.3) rotate(-90)" text-anchor="middle" font-size="27.2">40</text><text transform="translate(49.3 197.6) rotate(-90)" text-anchor="middle" font-size="27.2">60</text><text transform="translate(49.3 57) rotate(-90)" text-anchor="middle" font-size="27.2">80</text><text transform="translate(20.2 338.3) rotate(-90)" text-anchor="middle" font-size="26.7">Frequency</text><text x="534" y="697" text-anchor="middle" font-size="27">Age</text><text x="533.9" y="26.8" text-anchor="middle" font-size="38.2">Male</text></g>
<path d="M147.2 813.4V1401.7M206.4 813.4V1401.7M265.5 813.4V1401.7M324.7 813.4V1401.7M383.9 813.4V1401.7M443 813.4V1401.7M502.1 813.4V1401.7M561.3 813.4V1401.7M620.5 813.4V1401.7M679.6 813.4V1401.7M738.8 813.4V1401.7M797.9 813.4V1401.7M857.1 813.4V1401.7M916.2 813.4V1401.7M975.4 813.4V1401.7" stroke="#9d9d9d" stroke-width="1.7" stroke-dasharray="15.3 7.63" fill="none"/>
<g fill="#0000ff"><circle cx="88.1" cy="1343.9" r="5.5"/><circle cx="99.9" cy="1343.9" r="5.5"/><circle cx="111.8" cy="1329.9" r="5.5"/><circle cx="123.6" cy="1315.9" r="5.5"/><circle cx="135.4" cy="1273.8" r="5.5"/><circle cx="159.1" cy="1189.8" r="5.5"/><circle cx="170.9" cy="1189.8" r="5.5"/><circle cx="182.7" cy="1231.8" r="5.5"/><circle cx="194.6" cy="1175.8" r="5.5"/><circle cx="206.4" cy="1133.7" r="5.5"/><circle cx="218.2" cy="1203.8" r="5.5"/><circle cx="230.1" cy="1161.7" r="5.5"/><circle cx="241.9" cy="1301.8" r="5.5"/><circle cx="253.7" cy="1175.8" r="5.5"/><circle cx="277.4" cy="1161.7" r="5.5"/><circle cx="289.2" cy="1147.7" r="5.5"/><circle cx="301" cy="1189.8" r="5.5"/><circle cx="312.9" cy="1217.8" r="5.5"/><circle cx="324.7" cy="1175.8" r="5.5"/><circle cx="336.5" cy="1147.7" r="5.5"/><circle cx="348.4" cy="1105.7" r="5.5"/><circle cx="360.2" cy="979.6" r="5.5"/><circle cx="372" cy="1231.8" r="5.5"/><circle cx="395.7" cy="1189.8" r="5.5"/><circle cx="407.5" cy="1259.8" r="5.5"/><circle cx="419.3" cy="1119.7" r="5.5"/><circle cx="431.2" cy="1203.8" r="5.5"/><circle cx="443" cy="1189.8" r="5.5"/><circle cx="454.8" cy="1175.8" r="5.5"/><circle cx="466.7" cy="1231.8" r="5.5"/><circle cx="478.5" cy="1231.8" r="5.5"/><circle cx="490.3" cy="1063.7" r="5.5"/><circle cx="514" cy="1161.7" r="5.5"/><circle cx="525.8" cy="993.6" r="5.5"/><circle cx="537.6" cy="1119.7" r="5.5"/><circle cx="549.5" cy="1217.8" r="5.5"/><circle cx="561.3" cy="1077.7" r="5.5"/><circle cx="573.1" cy="1063.7" r="5.5"/><circle cx="585" cy="1189.8" r="5.5"/><circle cx="596.8" cy="1189.8" r="5.5"/><circle cx="608.6" cy="1203.8" r="5.5"/><circle cx="632.3" cy="1119.7" r="5.5"/><circle cx="644.1" cy="1189.8" r="5.5"/><circle cx="655.9" cy="1063.7" r="5.5"/><circle cx="667.8" cy="1119.7" r="5.5"/><circle cx="679.6" cy="1077.7" r="5.5"/><circle cx="691.4" cy="1217.8" r="5.5"/><circle cx="703.3" cy="1161.7" r="5.5"/><circle cx="715.1" cy="1161.7" r="5.5"/><circle cx="726.9" cy="1105.7" r="5.5"/><circle cx="750.6" cy="1189.8" r="5.5"/><circle cx="762.4" cy="1133.7" r="5.5"/><circle cx="774.2" cy="1161.7" r="5.5"/><circle cx="786.1" cy="1133.7" r="5.5"/><circle cx="797.9" cy="1217.8" r="5.5"/><circle cx="809.7" cy="1133.7" r="5.5"/><circle cx="821.6" cy="909.6" r="5.5"/><circle cx="833.4" cy="1133.7" r="5.5"/><circle cx="845.2" cy="1133.7" r="5.5"/><circle cx="868.9" cy="1217.8" r="5.5"/><circle cx="880.7" cy="1189.8" r="5.5"/><circle cx="892.5" cy="1203.8" r="5.5"/><circle cx="904.4" cy="1161.7" r="5.5"/><circle cx="916.2" cy="1105.7" r="5.5"/><circle cx="928" cy="1189.8" r="5.5"/><circle cx="939.9" cy="1315.9" r="5.5"/><circle cx="951.7" cy="1259.8" r="5.5"/><circle cx="963.5" cy="1273.8" r="5.5"/></g>
<path d="M88.4 1385.9h21.3M114.1 1385.9h0.7M118.7 1385.9h2.2M123.8 1385.9h0.5M128.6 1385.9h0M131.6 1385.9h0M135.3 1385.9h0M139.5 1385.9h0M958.8 1385.9h0M967.5 1385.9h0M970.5 1385.9h0M88.3 1371.9h49.1M140.1 1371.9h1.8M899.1 1371.9h0M935 1371.9h0M942.4 1371.9h0M946.1 1371.9h2M952.5 1371.9h0M960.3 1371.9h0.7M965 1371.9h9.2M88.2 1357.9h58.2M149.1 1357.9h5.3M157.3 1357.9h2.3M162.4 1357.9h1.6M166.8 1357.9h0M179.3 1357.9h0M191.5 1357.9h0.4M320 1357.9h0M325.5 1357.9h0M411.6 1357.9h0M885.9 1357.9h0M926.8 1357.9h0M939.2 1357.9h2M944.6 1357.9h4.5M954 1357.9h0M958.8 1357.9h16M88.7 1343.9h72.7M164.5 1343.9h1.3M168.9 1343.9h3.2M176.3 1343.9h1.3M181.4 1343.9h0M185.2 1343.9h0M189.3 1343.9h0M195.6 1343.9h0M199.2 1343.9h1.9M206.2 1343.9h0M213.8 1343.9h0.7M220 1343.9h0M231.5 1343.9h2.1M241 1343.9h2.4M291.7 1343.9h1.9M300.6 1343.9h0.5M332.9 1343.9h0M339.8 1343.9h0M359.7 1343.9h0.8M373.7 1343.9h0M381.4 1343.9h0M391 1343.9h0M417.3 1343.9h0M439.1 1343.9h0M457.1 1343.9h0M463.2 1343.9h0M795.8 1343.9h0M828.3 1343.9h0M835.9 1343.9h0M895.8 1343.9h0M903.4 1343.9h2.3M909.1 1343.9h0.6M915.2 1343.9h0.8M919.3 1343.9h4.1M930.3 1343.9h0M934.5 1343.9h0.6M940.1 1343.9h35M88.4 1329.9h80M171.1 1329.9h2.6M179.1 1329.9h1.6M186.9 1329.9h0M189.5 1329.9h0.3M192.9 1329.9h0M196.3 1329.9h0.6M199.5 1329.9h5M208.7 1329.9h1.6M218.8 1329.9h0M222.4 1329.9h0M230.6 1329.9h0M234.9 1329.9h0M239.7 1329.9h0M254 1329.9h3.1M263.3 1329.9h3.9M270.8 1329.9h4.6M279.4 1329.9h1M292.4 1329.9h0.3M297 1329.9h0M300 1329.9h1.9M305.5 1329.9h0.9M309 1329.9h1.2M314.4 1329.9h0M319.8 1329.9h0.4M329.9 1329.9h0.8M334.8 1329.9h0M340.7 1329.9h0M344.4 1329.9h0M347.2 1329.9h2.9M358.9 1329.9h0M365.5 1329.9h1.1M380.4 1329.9h0M389.1 1329.9h0M410.8 1329.9h0M417.3 1329.9h0M420.1 1329.9h0.5M427.9 1329.9h0.7M434.3 1329.9h0M444.5 1329.9h0M452 1329.9h0M483.5 1329.9h0M486.5 1329.9h0M500 1329.9h0M518.8 1329.9h0M528 1329.9h0M552.6 1329.9h0M572.1 1329.9h0M631.3 1329.9h0M636.5 1329.9h0M682.6 1329.9h0M702.7 1329.9h0M733.8 1329.9h0M775.9 1329.9h0M783 1329.9h0M849.7 1329.9h0M855.6 1329.9h0M873.1 1329.9h0M894.9 1329.9h0M897.6 1329.9h1.1M903.7 1329.9h0M906.9 1329.9h9.3M918.9 1329.9h8M929.6 1329.9h45.4M89.2 1315.9h4.8M97.4 1315.9h102.8M202.8 1315.9h8.9M215 1315.9h0.6M219 1315.9h2.1M223.7 1315.9h11M238.1 1315.9h2.3M248.1 1315.9h7.2M259 1315.9h0.5M262.1 1315.9h0M267.1 1315.9h1.9M278.1 1315.9h3.2M284.2 1315.9h2.1M290.5 1315.9h4.8M298.7 1315.9h0M301.8 1315.9h0M304.8 1315.9h0M309.2 1315.9h5.9M318.3 1315.9h0M326.7 1315.9h0.1M329.8 1315.9h2.4M341.5 1315.9h17.1M362.6 1315.9h0.1M369.5 1315.9h0M372.8 1315.9h6.8M385.1 1315.9h0M388.5 1315.9h2.9M395.8 1315.9h0M399.5 1315.9h1M403.8 1315.9h0.8M408.4 1315.9h0.8M411.9 1315.9h3.8M422.9 1315.9h0M425.8 1315.9h0.8M430.1 1315.9h3.3M437.1 1315.9h0M448.4 1315.9h0M454 1315.9h0M459.2 1315.9h0M464.3 1315.9h8.3M476.1 1315.9h0M487.9 1315.9h0M501.6 1315.9h0.2M505.6 1315.9h2.6M534.4 1315.9h0M547.9 1315.9h0.8M552.9 1315.9h1.8M584 1315.9h0M587.7 1315.9h0M607.5 1315.9h0M611.6 1315.9h0M663.6 1315.9h0M679 1315.9h0M704 1315.9h0M720.1 1315.9h0M765.3 1315.9h0M775.6 1315.9h0.4M800.3 1315.9h0M811.1 1315.9h0M824.4 1315.9h0M836.9 1315.9h2.4M855.8 1315.9h10M868.5 1315.9h0M872.7 1315.9h1.8M878.7 1315.9h0M882.7 1315.9h3.3M890.6 1315.9h29.2M922.8 1315.9h52.5M90.2 1301.8h0M94.9 1301.8h3.4M101.9 1301.8h121.8M226.4 1301.8h19.3M250.7 1301.8h0M255.9 1301.8h9M269.1 1301.8h0.3M273.2 1301.8h14.5M291.1 1301.8h1.9M297.4 1301.8h31.1M331.7 1301.8h6.2M341.5 1301.8h1.7M347.4 1301.8h21M371.8 1301.8h7.8M382.5 1301.8h0M386.7 1301.8h9.1M398.4 1301.8h6M409.5 1301.8h2.4M417.2 1301.8h0M421.4 1301.8h0.5M425.6 1301.8h11.1M439.8 1301.8h0M444.8 1301.8h0.1M447.8 1301.8h3.4M455.1 1301.8h8.4M467.8 1301.8h0.9M473.9 1301.8h0.9M478.1 1301.8h1.8M484.3 1301.8h5.3M492.3 1301.8h11.1M506.3 1301.8h1.3M511 1301.8h5.2M523.3 1301.8h6.2M537.3 1301.8h0M541.4 1301.8h0M547 1301.8h0M550.7 1301.8h0M556.8 1301.8h0M566.6 1301.8h0M577.6 1301.8h1.2M586.7 1301.8h0M596.3 1301.8h0M599.1 1301.8h2.6M605.1 1301.8h2.2M630.9 1301.8h0M636.3 1301.8h3.9M648.4 1301.8h0M669.4 1301.8h0M674.3 1301.8h0M682.3 1301.8h0M685.8 1301.8h0M691.8 1301.8h0M696.8 1301.8h0M703.9 1301.8h1.3M708.6 1301.8h1.5M717.7 1301.8h0M727.3 1301.8h1.2M738.1 1301.8h0.6M756.7 1301.8h5.8M774.6 1301.8h2M780.5 1301.8h0M793.3 1301.8h3.1M800.9 1301.8h3.7M808.4 1301.8h0.6M829.4 1301.8h1.5M835.6 1301.8h1.6M840.8 1301.8h0.7M845.9 1301.8h2M851.1 1301.8h4.2M860.2 1301.8h0M863.9 1301.8h0M866.9 1301.8h2.1M871.8 1301.8h6.3M881.6 1301.8h1.4M885.8 1301.8h89.1M93.3 1287.8h0M96.3 1287.8h0M99.1 1287.8h0M107.2 1287.8h0M109.9 1287.8h8.8M121.5 1287.8h109M233.3 1287.8h52M288.1 1287.8h69M360.2 1287.8h78.5M442.4 1287.8h14.3M459.6 1287.8h22.9M486.6 1287.8h5.9M496 1287.8h14M514 1287.8h4.3M521.6 1287.8h0.3M524.7 1287.8h0M528.6 1287.8h12.2M548 1287.8h0M553.2 1287.8h3.3M560.8 1287.8h0M566.5 1287.8h1.5M572.6 1287.8h3.8M583.8 1287.8h7.7M596.7 1287.8h5M605.8 1287.8h0M611.7 1287.8h0.9M616.9 1287.8h5.1M626.3 1287.8h0.2M632.3 1287.8h0M639.5 1287.8h1.8M651.3 1287.8h3.6M662.5 1287.8h0M668.8 1287.8h0.3M673.2 1287.8h2.2M680.2 1287.8h0M684.1 1287.8h0M689 1287.8h0M696.5 1287.8h5.6M705.7 1287.8h0M708.4 1287.8h3.7M718.7 1287.8h2.6M730.4 1287.8h3.3M743 1287.8h2.6M754 1287.8h1.8M772.2 1287.8h0M776.1 1287.8h0M779.6 1287.8h0M788.6 1287.8h4.6M798.5 1287.8h1.9M804.1 1287.8h1.9M812.5 1287.8h5.1M821.7 1287.8h8.2M836.6 1287.8h4.6M846.8 1287.8h0M855.1 1287.8h119.9M91.7 1273.8h0M110.7 1273.8h0M115.2 1273.8h8.8M127.3 1273.8h329.7M459.8 1273.8h10.2M474.1 1273.8h4.1M480.8 1273.8h41.4M526.9 1273.8h10.5M541.2 1273.8h11.3M555.9 1273.8h4.7M563.7 1273.8h0M568.6 1273.8h1M573.5 1273.8h7.5M584.6 1273.8h2.4M589.7 1273.8h0M594.7 1273.8h0M598.6 1273.8h0.5M602.9 1273.8h2.5M608.8 1273.8h8.8M628.5 1273.8h0.2M633.2 1273.8h4.2M642.8 1273.8h6.8M656.9 1273.8h2.8M664.3 1273.8h0M667.1 1273.8h0.6M671.5 1273.8h9.3M685.6 1273.8h0.2M689.7 1273.8h0.9M693.8 1273.8h0.3M699.8 1273.8h13.9M719.8 1273.8h18.3M741 1273.8h0.5M744.6 1273.8h2.8M752.2 1273.8h2M763 1273.8h28.6M795.3 1273.8h2.3M800.5 1273.8h0M803.1 1273.8h1.6M807.7 1273.8h15.9M827.7 1273.8h3.5M834.2 1273.8h13.9M851.5 1273.8h123.7M111.6 1259.8h2.5M118.8 1259.8h3.9M125.8 1259.8h0.2M129.7 1259.8h131.5M263.9 1259.8h286.7M553.4 1259.8h8.8M564.8 1259.8h6.6M577.4 1259.8h59.9M640.5 1259.8h0M643.8 1259.8h6.3M652.7 1259.8h4.4M660.7 1259.8h22.2M685.6 1259.8h30.5M720.7 1259.8h5.8M729.7 1259.8h0M732.6 1259.8h3.8M739.4 1259.8h12M754.8 1259.8h11.8M770.1 1259.8h4.7M778.8 1259.8h3.5M785.2 1259.8h0M788.3 1259.8h173.1M964 1259.8h7.6M974.5 1259.8h0M118 1245.8h0M129.7 1245.8h5.6M138.8 1245.8h5.2M146.8 1245.8h390M540 1245.8h26.1M569 1245.8h17.1M590.3 1245.8h50.6M645 1245.8h25.2M673.4 1245.8h28.1M704.4 1245.8h24M735.9 1245.8h63.2M803.2 1245.8h8M814 1245.8h146.7M966.1 1245.8h6.6M133.3 1231.8h0.8M138.7 1231.8h2.6M144.5 1231.8h604.9M752.2 1231.8h5.1M760.3 1231.8h189.8M953.3 1231.8h2.5M960 1231.8h1.2M964.6 1231.8h0M968.4 1231.8h0M973.3 1231.8h1.2M129.2 1217.8h0M131.8 1217.8h0.8M143.8 1217.8h0M150.4 1217.8h534.4M687.5 1217.8h114M805.2 1217.8h123.3M932.1 1217.8h7.8M943.2 1217.8h3.8M950.9 1217.8h1.2M955.7 1217.8h0M965.7 1217.8h6.4M136.9 1203.8h0M141.7 1203.8h0.7M148.2 1203.8h1.1M153.8 1203.8h12.4M169.1 1203.8h765.8M939.2 1203.8h0M942.4 1203.8h1.5M952.9 1203.8h1.6M962.1 1203.8h0M138.9 1189.8h0M150.2 1189.8h0M153 1189.8h0M156.7 1189.8h6.2M165.9 1189.8h1.9M171.3 1189.8h15.9M189.8 1189.8h2.1M194.6 1189.8h719.3M916.8 1189.8h4.2M924.8 1189.8h10.4M938.5 1189.8h0.7M943.4 1189.8h2M949.2 1189.8h0M958.5 1189.8h0.7M144.8 1175.8h0M149.9 1175.8h0M156.7 1175.8h0.2M159.6 1175.8h0M162.5 1175.8h1.7M169.2 1175.8h0.3M172.8 1175.8h5.3M181.4 1175.8h6.9M191.7 1175.8h1.6M197.2 1175.8h52.4M253.9 1175.8h31.5M289.3 1175.8h3.4M295.9 1175.8h137.2M436.3 1175.8h30.5M469.5 1175.8h438.8M911 1175.8h5.9M919.5 1175.8h6.5M937.5 1175.8h0.3M940.5 1175.8h0M943.4 1175.8h1.9M153.2 1161.7h0M164.5 1161.7h3.7M175.3 1161.7h0.7M180.5 1161.7h6.6M191.9 1161.7h2.5M198.1 1161.7h10.9M212 1161.7h0M216.8 1161.7h17.9M239 1161.7h1.9M244.5 1161.7h7M254.2 1161.7h3.5M260.3 1161.7h32M295.3 1161.7h13.5M311.5 1161.7h0.1M314.3 1161.7h6.8M326 1161.7h42.1M371.4 1161.7h21.9M396 1161.7h1.1M400.3 1161.7h8.6M412.1 1161.7h59.7M475 1161.7h354.4M832.3 1161.7h41.3M876.4 1161.7h31.4M911.4 1161.7h7M921.5 1161.7h5.2M932.4 1161.7h0M949.7 1161.7h2.4M152.4 1147.7h0M165.8 1147.7h1.4M172.9 1147.7h0M177.2 1147.7h1.8M183.2 1147.7h3.3M195.2 1147.7h0.7M204.2 1147.7h0M207 1147.7h2.9M216.2 1147.7h11.9M231.7 1147.7h10.8M246.2 1147.7h17.4M267.8 1147.7h2.1M273.3 1147.7h7.1M284.1 1147.7h2M290.3 1147.7h1M294.6 1147.7h3.3M301.2 1147.7h3.2M307.6 1147.7h6M318.6 1147.7h3M324.5 1147.7h63.2M392.5 1147.7h2.8M398.6 1147.7h0.4M402 1147.7h9.1M413.7 1147.7h0M416.5 1147.7h0M419.4 1147.7h0.9M423.1 1147.7h8.7M434.4 1147.7h15.4M452.7 1147.7h14M469.4 1147.7h21.2M493.5 1147.7h8.6M504.7 1147.7h368.1M877.6 1147.7h12.7M893 1147.7h4.9M901.9 1147.7h0M905 1147.7h0.1M910.6 1147.7h2.3M916.5 1147.7h1.5M921.5 1147.7h0M927.7 1147.7h0M932.4 1147.7h3.1M186.4 1133.7h0M191.5 1133.7h2.2M201.5 1133.7h4.1M210.8 1133.7h5.8M221.7 1133.7h0M226 1133.7h0M233.8 1133.7h3M245 1133.7h0M250.7 1133.7h1.9M255.3 1133.7h0M259.8 1133.7h2.4M267.4 1133.7h0M273 1133.7h0M277 1133.7h0M281.6 1133.7h2.7M287.7 1133.7h10.3M303.1 1133.7h1.6M308.7 1133.7h3.6M318.9 1133.7h0M324.2 1133.7h8.1M335.8 1133.7h6.9M345.6 1133.7h0.5M349.2 1133.7h3.1M362.2 1133.7h0M365.3 1133.7h1.4M372.8 1133.7h0M376 1133.7h4.3M385.9 1133.7h1M391.1 1133.7h10.7M408.8 1133.7h1.6M413.1 1133.7h2.3M418.6 1133.7h8.1M432.2 1133.7h4.8M439.8 1133.7h7.7M451 1133.7h3.4M457.6 1133.7h5.4M469.1 1133.7h7.1M479.1 1133.7h28.3M510.3 1133.7h11.4M524.4 1133.7h270.4M797.8 1133.7h25.6M826 1133.7h0.3M829.1 1133.7h10.9M843.4 1133.7h9.8M856.3 1133.7h8.2M867.8 1133.7h8.8M879.3 1133.7h10.4M892.6 1133.7h4.7M912.6 1133.7h0M929.7 1133.7h0M158.8 1119.7h0M181.1 1119.7h0M193.6 1119.7h0M199.3 1119.7h0M204.4 1119.7h0M208.7 1119.7h0M215.3 1119.7h0M218 1119.7h0M249.5 1119.7h0M256.2 1119.7h0M265.4 1119.7h0M270.2 1119.7h0M276 1119.7h2.9M285.5 1119.7h3.6M294.5 1119.7h4M301.4 1119.7h0.3M309.5 1119.7h0M313 1119.7h0M317.9 1119.7h0M322.9 1119.7h0M329.3 1119.7h0M335.3 1119.7h0M339.2 1119.7h1M346.4 1119.7h3.5M353.9 1119.7h0M361 1119.7h3.9M377.1 1119.7h6.6M388 1119.7h0M394.2 1119.7h0.9M398.3 1119.7h0M404.1 1119.7h2.8M410.6 1119.7h0M414.8 1119.7h0.8M419.1 1119.7h0M423 1119.7h3.6M429.9 1119.7h0M438.2 1119.7h0.9M444.1 1119.7h1.5M450.5 1119.7h5.9M459.3 1119.7h5.3M467.2 1119.7h24.7M494.9 1119.7h7.3M506.5 1119.7h5.1M516.4 1119.7h31.2M550.2 1119.7h7.6M560.8 1119.7h7M570.8 1119.7h5.7M580.1 1119.7h81.1M663.9 1119.7h93.2M760 1119.7h23.1M787.9 1119.7h33.2M823.7 1119.7h14.5M843.8 1119.7h10.5M858 1119.7h5.8M866.7 1119.7h12.8M882.6 1119.7h7M894.8 1119.7h0M899.5 1119.7h1.7M911.3 1119.7h0M919.8 1119.7h0M923.5 1119.7h0M933.5 1119.7h0M204.3 1105.7h0M208.7 1105.7h0M216 1105.7h0M229.7 1105.7h0M242 1105.7h2.5M247.7 1105.7h0M252.2 1105.7h0M256.7 1105.7h0M288.6 1105.7h2.7M295.4 1105.7h2.6M303.5 1105.7h0.9M310.8 1105.7h0M317.9 1105.7h1.4M322.5 1105.7h0M331.7 1105.7h0.6M335.1 1105.7h2.2M341.6 1105.7h0M344.6 1105.7h3.4M352.5 1105.7h0M361 1105.7h2.8M367.3 1105.7h4M389.8 1105.7h5.9M400.9 1105.7h0M406 1105.7h0.7M415.9 1105.7h0M419.2 1105.7h0M422.3 1105.7h0M428.6 1105.7h0M431.3 1105.7h0M437.1 1105.7h3.9M449.3 1105.7h1.3M454.2 1105.7h1.4M462.3 1105.7h0M466.1 1105.7h0.8M470.9 1105.7h7.8M481.6 1105.7h0M485 1105.7h4.3M493.1 1105.7h1.2M497.7 1105.7h0.4M503.6 1105.7h4.6M514.7 1105.7h0.7M519.4 1105.7h6.9M529.6 1105.7h4.9M538 1105.7h30.1M572 1105.7h30.6M607.2 1105.7h11.2M621.2 1105.7h1.5M625.7 1105.7h11.4M639.8 1105.7h15.5M661.9 1105.7h3.5M669.2 1105.7h12.4M684.3 1105.7h30.4M717.7 1105.7h22.7M743.7 1105.7h20.7M769.3 1105.7h4.4M776.5 1105.7h7.9M787.8 1105.7h0M791.1 1105.7h1.2M795.2 1105.7h2.9M801 1105.7h9.9M813.8 1105.7h2.6M819.2 1105.7h0M822.2 1105.7h1.4M828.9 1105.7h5.1M837.2 1105.7h10.6M851.4 1105.7h2.3M859.5 1105.7h0M862.3 1105.7h0M866.2 1105.7h3.9M874.8 1105.7h0M882.3 1105.7h0M885.1 1105.7h0M893.9 1105.7h0M897.5 1105.7h0M917.3 1105.7h0M169 1091.7h0M204.8 1091.7h0M211.6 1091.7h0M216.3 1091.7h0.9M240.7 1091.7h0M246.7 1091.7h0M271.6 1091.7h2.1M311.4 1091.7h0M315.9 1091.7h0M319.1 1091.7h0M329 1091.7h4.7M338.4 1091.7h0M357.5 1091.7h0M363.3 1091.7h0M365.9 1091.7h0M369.2 1091.7h0M385.5 1091.7h0M394.6 1091.7h0M399.7 1091.7h0M405.4 1091.7h0M411.8 1091.7h0M424.2 1091.7h0M450.7 1091.7h1.1M460.3 1091.7h0M466.9 1091.7h0M472.5 1091.7h0.6M478.3 1091.7h0M488.2 1091.7h2.3M493.7 1091.7h0.7M509.7 1091.7h4.5M518.3 1091.7h0M520.9 1091.7h0M525.2 1091.7h0.8M529.1 1091.7h1.8M535.5 1091.7h0.3M538.6 1091.7h2.5M547.1 1091.7h6M559 1091.7h5M566.8 1091.7h6.2M575.7 1091.7h1.4M581.4 1091.7h0M584.4 1091.7h0.9M588.1 1091.7h4.6M599 1091.7h3.9M605.9 1091.7h1M610.6 1091.7h1.5M616.4 1091.7h0.5M623.9 1091.7h2.6M630.3 1091.7h2.4M636.1 1091.7h4.7M645.3 1091.7h2.1M650 1091.7h0.4M654.3 1091.7h17.6M675.8 1091.7h14.5M694.9 1091.7h0.6M700.7 1091.7h16.2M721.8 1091.7h6.1M731.2 1091.7h26.8M761.1 1091.7h13.8M780.4 1091.7h0.5M784.3 1091.7h4.5M792 1091.7h0.5M796 1091.7h0M799 1091.7h0M802.6 1091.7h10.2M815.8 1091.7h2.8M825 1091.7h1.9M830 1091.7h0M836.2 1091.7h0.1M843.4 1091.7h1.3M848.4 1091.7h1.5M853.8 1091.7h0.8M857.5 1091.7h0M861.3 1091.7h0.3M888 1091.7h0M905.8 1091.7h0M253 1077.7h0M263.2 1077.7h0M280.6 1077.7h0M311.7 1077.7h0M343 1077.7h0M356.1 1077.7h0M421.2 1077.7h1.7M466.5 1077.7h0.2M477.8 1077.7h0M481.1 1077.7h0M497.3 1077.7h0M501.2 1077.7h1M507.3 1077.7h3.2M514.1 1077.7h0.2M517.5 1077.7h3M523.4 1077.7h2.2M530.3 1077.7h0.7M541.9 1077.7h0M544.6 1077.7h0M550.6 1077.7h1.5M558.5 1077.7h2.3M567.3 1077.7h0M571.5 1077.7h3.3M578.7 1077.7h0.7M584.7 1077.7h2.5M593.3 1077.7h14.5M614.5 1077.7h0.5M618 1077.7h4M634.2 1077.7h4.4M644.8 1077.7h0M650.1 1077.7h8.9M662.5 1077.7h0.9M666.6 1077.7h3.2M673.6 1077.7h1.1M679.7 1077.7h2.6M685.4 1077.7h4.1M693.9 1077.7h5.4M702.6 1077.7h3.6M710.3 1077.7h2.3M716.2 1077.7h0.6M722 1077.7h1.6M726.5 1077.7h8.6M738.2 1077.7h7.5M749.8 1077.7h1M760.5 1077.7h7.1M770.4 1077.7h4.5M777.8 1077.7h0.4M781.3 1077.7h2.8M790.9 1077.7h2.6M796.1 1077.7h0M800.8 1077.7h9M812.4 1077.7h7.8M824.5 1077.7h0M831.3 1077.7h0M834.3 1077.7h1.7M840.2 1077.7h0M847 1077.7h0M856.9 1077.7h1.6M861.3 1077.7h0M868 1077.7h0M879 1077.7h0M290.9 1063.7h0M361.5 1063.7h0M414 1063.7h0M459.6 1063.7h0.9M513.9 1063.7h1.8M523.4 1063.7h0M528.6 1063.7h0M536.1 1063.7h0M554.6 1063.7h1.7M559.4 1063.7h0M562.2 1063.7h1.5M568.1 1063.7h1.9M574.7 1063.7h0.3M577.7 1063.7h0.2M585.2 1063.7h2.3M591.7 1063.7h0M595 1063.7h0M604.3 1063.7h0M607.6 1063.7h0.2M612.1 1063.7h2.2M617.7 1063.7h3.7M627.5 1063.7h0M631.8 1063.7h1M638.7 1063.7h0M641.5 1063.7h8M653.3 1063.7h0M660.2 1063.7h0M665.1 1063.7h0M669.3 1063.7h1.2M678.2 1063.7h4.9M692.7 1063.7h1.5M698.4 1063.7h0M705.5 1063.7h0M709.7 1063.7h1.6M714.8 1063.7h0M717.5 1063.7h3.7M724.2 1063.7h0M729.9 1063.7h7.3M742.8 1063.7h0.5M747.3 1063.7h2.6M753.4 1063.7h2.2M761.5 1063.7h0M766.4 1063.7h0.3M769.5 1063.7h4.8M781.1 1063.7h2.2M786.6 1063.7h0M789.3 1063.7h3.6M809.1 1063.7h0.2M818.6 1063.7h0M823 1063.7h0M826.9 1063.7h0M845.4 1063.7h1.9M854.4 1063.7h0M896.2 1063.7h0M906.3 1063.7h0M924.1 1063.7h0M279 1049.7h0M510.5 1049.7h0M537.7 1049.7h0M548.5 1049.7h0M553.4 1049.7h0M594.7 1049.7h0M609.2 1049.7h0M613.4 1049.7h0M625.1 1049.7h0M632.6 1049.7h1.5M646.3 1049.7h0M650.3 1049.7h2.1M655.4 1049.7h0M660.4 1049.7h1.5M667.2 1049.7h0M671.1 1049.7h7.3M684.6 1049.7h0M697.5 1049.7h10M710.5 1049.7h9.2M732.5 1049.7h0M737.2 1049.7h0.3M740.4 1049.7h0M743.8 1049.7h0M751.5 1049.7h1.6M757 1049.7h2.8M762.5 1049.7h0M785.1 1049.7h0M788.5 1049.7h0M796.1 1049.7h0M799.2 1049.7h3.2M805.1 1049.7h0M809.7 1049.7h0M816.4 1049.7h1.5M824.6 1049.7h0M857.5 1049.7h1.9M514.8 1035.7h0M517.5 1035.7h0M541.6 1035.7h0M577.7 1035.7h0M606.6 1035.7h0M609.8 1035.7h1.3M622.7 1035.7h0M626.1 1035.7h1.3M630 1035.7h0M635.7 1035.7h0M652.8 1035.7h0M662.2 1035.7h0M680.8 1035.7h0M695.4 1035.7h1.5M717 1035.7h2M737.9 1035.7h1M748.6 1035.7h0M753.4 1035.7h0M760.7 1035.7h0M763.4 1035.7h0M767.8 1035.7h0M776.7 1035.7h0M810.8 1035.7h0M920.6 1035.7h0M232.4 1021.6h0M309.3 1021.6h0M351.5 1021.6h0M540 1021.6h0M565.1 1021.6h4M597.6 1021.6h0M619 1021.6h0M630 1021.6h0M638.3 1021.6h0M654.6 1021.6h0M657.6 1021.6h0.2M662 1021.6h0M692.8 1021.6h0M707.1 1021.6h0M715.8 1021.6h0M733.5 1021.6h0.5M763.4 1021.6h0M802.9 1021.6h0M861.6 1021.6h0M572.4 1007.6h0M593.9 1007.6h0M601.5 1007.6h0M607.4 1007.6h0M709.5 1007.6h0M729.5 1007.6h0M743.1 1007.6h0M752.1 1007.6h0M763.4 1007.6h0M794.6 1007.6h0M814.6 1007.6h0M563.6 993.6h0M714 993.6h2.5M738 993.6h0M278.4 979.6h0M679.6 979.6h0M696 979.6h0M704.7 979.6h0M712.4 979.6h0.7M716.4 979.6h0M735.6 979.6h0M741.1 979.6h0M723.7 965.6h0M668.6 951.6h0M781.7 951.6h0" stroke="#000" stroke-width="3.2" stroke-linecap="round" fill="none"/>
<path d="M147.2 1112.1L154.8 1119.7L147.2 1127.3L139.7 1119.7ZM265.5 1196.2L273.1 1203.8L265.5 1211.4L257.9 1203.8ZM383.9 1112.1L391.5 1119.7L383.9 1127.3L376.2 1119.7ZM502.1 1140.1L509.8 1147.7L502.1 1155.3L494.5 1147.7ZM620.5 1098.1L628.1 1105.7L620.5 1113.3L612.9 1105.7ZM738.8 1000L746.4 1007.6L738.8 1015.2L731.1 1007.6ZM857.1 1112.1L864.7 1119.7L857.1 1127.3L849.5 1119.7ZM975.4 1322.3L983 1329.9L975.4 1337.5L967.8 1329.9Z" fill="#ff0000"/>
<rect x="71.3" y="810.1" width="920.1" height="591.6" fill="none" stroke="#000" stroke-width="2" stroke-linejoin="round"/>
<path d="M88.1 1401.7V1412M147.2 1401.7V1412M206.4 1401.7V1412M265.5 1401.7V1412M324.7 1401.7V1412M383.9 1401.7V1412M443 1401.7V1412M502.1 1401.7V1412M561.3 1401.7V1412M620.5 1401.7V1412M679.6 1401.7V1412M738.8 1401.7V1412M797.9 1401.7V1412M857.1 1401.7V1412M916.2 1401.7V1412M975.4 1401.7V1412M71.3 1385.9H61M71.3 1245.8H61M71.3 1105.7H61M71.3 965.6H61M71.3 825.5H61" stroke="#000" stroke-width="1.9" stroke-linecap="round" fill="none"/>
<g font-family="Liberation Sans, sans-serif" fill="#000"><text x="88.1" y="1434.8" text-anchor="middle" font-size="21">15</text><text x="147.2" y="1434.8" text-anchor="middle" font-size="21">20</text><text x="206.4" y="1434.8" text-anchor="middle" font-size="21">25</text><text x="265.5" y="1434.8" text-anchor="middle" font-size="21">30</text><text x="324.7" y="1434.8" text-anchor="middle" font-size="21">35</text><text x="383.9" y="1434.8" text-anchor="middle" font-size="21">40</text><text x="443" y="1434.8" text-anchor="middle" font-size="21">45</text><text x="502.1" y="1434.8" text-anchor="middle" font-size="21">50</text><text x="561.3" y="1434.8" text-anchor="middle" font-size="21">55</text><text x="620.5" y="1434.8" text-anchor="middle" font-size="21">60</text><text x="679.6" y="1434.8" text-anchor="middle" font-size="21">65</text><text x="738.8" y="1434.8" text-anchor="middle" font-size="21">70</text><text x="797.9" y="1434.8" text-anchor="middle" font-size="21">75</text><text x="857.1" y="1434.8" text-anchor="middle" font-size="21">80</text><text x="916.2" y="1434.8" text-anchor="middle" font-size="21">85</text><text x="975.4" y="1434.8" text-anchor="middle" font-size="21">90</text><text transform="translate(49.3 1385.9) rotate(-90)" text-anchor="middle" font-size="27.2">0</text><text transform="translate(49.3 1245.8) rotate(-90)" text-anchor="middle" font-size="27.2">10</text><text transform="translate(49.3 1105.7) rotate(-90)" text-anchor="middle" font-size="27.2">20</text><text transform="translate(49.3 965.6) rotate(-90)" text-anchor="middle" font-size="27.2">30</text><text transform="translate(49.3 825.5) rotate(-90)" text-anchor="middle" font-size="27.2">40</text><text transform="translate(20.2 1105.9) rotate(-90)" text-anchor="middle" font-size="26.7">Frequency</text><text x="531.4" y="1462.9" text-anchor="middle" font-size="27">Age</text><text x="531.7" y="796" text-anchor="middle" font-size="37.3">Female</text></g>
</svg>
</body></html>
